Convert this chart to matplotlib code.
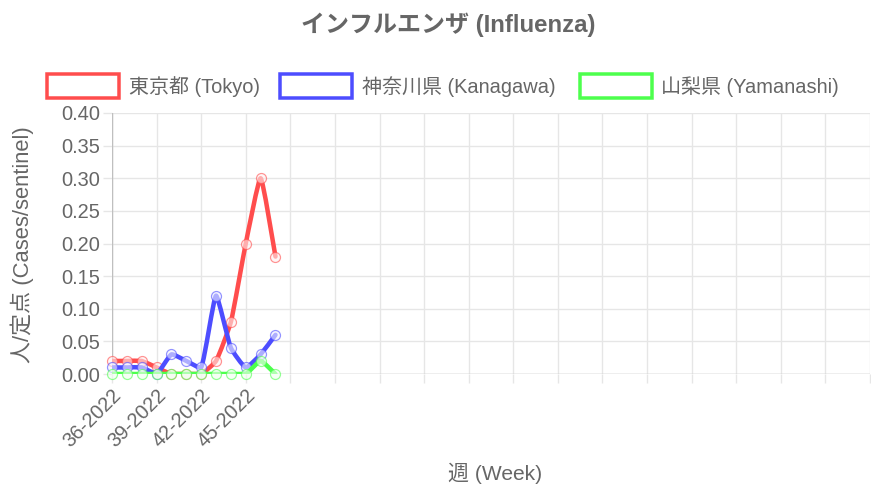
import numpy as np
import matplotlib
matplotlib.use("Agg")
import matplotlib.pyplot as plt
from matplotlib.path import Path
from matplotlib.patches import PathPatch, Rectangle

plt.rcParams['font.family'] = ['Liberation Sans', 'Noto Sans CJK JP']

# Weekly values (cases per sentinel)
weeks = ["36-2022", "37-2022", "38-2022", "39-2022", "40-2022", "41-2022",
         "42-2022", "43-2022", "44-2022", "45-2022", "46-2022", "47-2022"]
n_categories = 52  # x axis runs a whole year, only the first weeks are filled
tokyo = [0.02, 0.02, 0.02, 0.01, 0.00, 0.00, 0.00, 0.02, 0.08, 0.20, 0.30, 0.18]
kanagawa = [0.01, 0.01, 0.01, 0.00, 0.03, 0.02, 0.01, 0.12, 0.04, 0.01, 0.03, 0.06]
yamanashi = [0.00, 0.00, 0.00, 0.00, 0.00, 0.00, 0.00, 0.00, 0.00, 0.00, 0.02, 0.00]

series_names = ["東京都 (Tokyo)", "神奈川県 (Kanagawa)", "山梨県 (Yamanashi)"]
series_values = [tokyo, kanagawa, yamanashi]
line_colors = ["#ff4d4d", "#4d4dff", "#4dff4d"]
fill_colors = ["#fff0f0", "#f0f0ff", "#f0fff0"]

W, H = 871, 487
TEXT = "#666666"
GRID = "#e6e6e6"
ZERO = "#bfbfbf"


def fx(px):
    return px / W


def fy(py):
    return 1 - py / H


def pt(px):
    return px * 0.72


# Bezier path like chart.js, computed in pixel space; low tension keeps peaks sharp
def spline_path(ax, xs, ys, tension=0.15):
    pts = ax.transData.transform(np.column_stack([xs, ys]))
    n = len(pts)
    prev_cp, next_cp = [], []
    for i in range(n):
        cur = pts[i]
        prv = pts[i - 1] if i > 0 else cur
        nxt = pts[i + 1] if i < n - 1 else cur
        d01 = np.hypot(*(cur - prv))
        d12 = np.hypot(*(nxt - cur))
        tot = d01 + d12
        s01 = d01 / tot if tot else 0
        s12 = d12 / tot if tot else 0
        prev_cp.append(cur - tension * s01 * (nxt - prv))
        next_cp.append(cur + tension * s12 * (nxt - prv))
    x0, y0, x1, y1 = ax.bbox.x0, ax.bbox.y0, ax.bbox.x1, ax.bbox.y1
    clamp = lambda p: np.array([min(max(p[0], x0), x1), min(max(p[1], y0), y1)])
    verts = [pts[0]]
    codes = [Path.MOVETO]
    for i in range(n - 1):
        verts += [clamp(next_cp[i]), clamp(prev_cp[i + 1]), pts[i + 1]]
        codes += [Path.CURVE4] * 3
    verts = ax.transData.inverted().transform(np.array(verts))
    return Path(verts, codes)


fig = plt.figure(figsize=(W / 100, H / 100), dpi=100)
ax = fig.add_axes([fx(112), fy(374), fx(870 - 112), (374 - 113) / H])
ax.set_xlim(0, n_categories - 1)
ax.set_ylim(0, 0.40)

for s in ax.spines.values():
    s.set_visible(False)

xticks = np.arange(0, n_categories, 3)
xlabels = [weeks[i] if i < len(weeks) else "" for i in xticks]
ax.set_xticks(xticks)
ax.set_xticklabels(xlabels, rotation=45, ha="right", rotation_mode="anchor")
yticks = np.arange(0, 0.401, 0.05)
ax.set_yticks(yticks)
ax.set_yticklabels(["%.2f" % v for v in yticks])
ax.tick_params(colors=GRID, labelcolor=TEXT, labelsize=pt(20), length=pt(9), width=1, pad=2)
ax.grid(True, color=GRID, linewidth=1)
ax.set_axisbelow(True)
ax.axhline(0, color=ZERO, linewidth=1, zorder=1)
ax.axvline(0, color=ZERO, linewidth=1, zorder=1)

x = np.arange(len(weeks))
# draw in reverse so Tokyo ends up on top
for k in range(len(series_values) - 1, -1, -1):
    vals = series_values[k]
    path = spline_path(ax, x, vals)
    ax.add_patch(PathPatch(path, fill=False, edgecolor=line_colors[k], linewidth=pt(4.5),
                           capstyle="round", joinstyle="round", zorder=3 + k * 0.1))
    ax.plot(x, vals, "o", ms=pt(10), mfc=fill_colors[k], mec=line_colors[k], mew=pt(1.2),
            alpha=0.6, clip_on=False, zorder=3 + k * 0.1)

fig.text(fx(448), fy(25), "インフルエンザ (Influenza)", ha="center", va="center",
         fontsize=pt(24), fontweight="bold", color=TEXT)

# legend drawn by hand to get the wide chart.js boxes
legend_box_x = [47, 280, 580]
legend_text_x = [129, 362, 661]
for k in range(3):
    fig.add_artist(Rectangle((fx(legend_box_x[k]), fy(98)), 72 / W, 24 / H,
                             transform=fig.transFigure, facecolor="white",
                             edgecolor=line_colors[k], linewidth=pt(3.5)))
    fig.text(fx(legend_text_x[k]), fy(87), series_names[k], ha="left", va="center",
             fontsize=pt(20), color=TEXT)

fig.text(fx(22), fy(245), "人/定点 (Cases/sentinel)", rotation=90, ha="center", va="center",
         fontsize=pt(22), color=TEXT)
fig.text(fx(495), fy(473), "週 (Week)", ha="center", va="center", fontsize=pt(21), color=TEXT)

fig.savefig("out.png", dpi=100)
